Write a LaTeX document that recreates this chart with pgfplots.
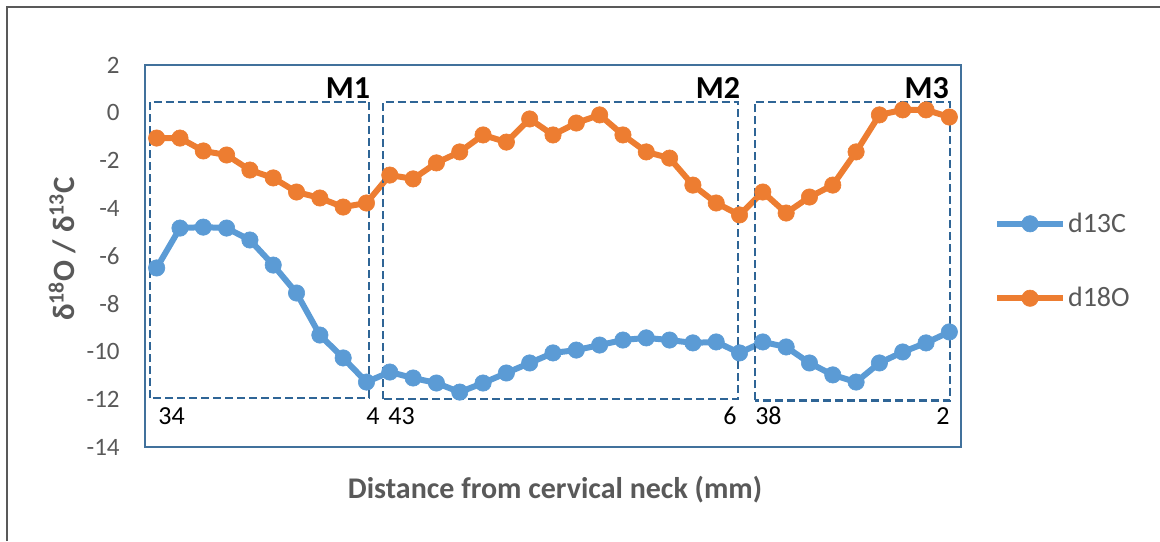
\documentclass[border=0pt]{standalone}
\usepackage{fontspec}
\setmainfont{Carlito}
\usepackage{pgfplots}
\usepackage{pgfplotstable}
\pgfplotsset{compat=1.18}
\definecolor{cblue}{RGB}{91,155,213}
\definecolor{corange}{RGB}{237,125,49}
\definecolor{framec}{RGB}{65,113,156}
\definecolor{dashc}{RGB}{47,101,150}
\definecolor{tgray}{RGB}{89,89,89}

\pgfplotstableread{
x c o
0 -6.50 -1.06
1 -4.83 -1.06
2 -4.79 -1.60
3 -4.83 -1.77
4 -5.33 -2.40
5 -6.38 -2.73
6 -7.55 -3.32
7 -9.31 -3.57
8 -10.27 -3.95
9 -11.28 -3.78
10 -10.86 -2.61
11 -11.11 -2.77
12 -11.32 -2.10
13 -11.70 -1.64
14 -11.32 -0.93
15 -10.90 -1.23
16 -10.48 -0.26
17 -10.06 -0.93
18 -9.94 -0.43
19 -9.73 -0.09
20 -9.52 -0.93
21 -9.43 -1.64
22 -9.52 -1.90
23 -9.64 -3.03
24 -9.60 -3.78
25 -10.06 -4.28
26 -9.60 -3.32
27 -9.81 -4.20
28 -10.48 -3.53
29 -10.98 -3.03
30 -11.28 -1.64
31 -10.48 -0.09
32 -10.02 0.12
33 -9.64 0.12
34 -9.18 -0.18
}\data

\begin{document}
\begin{tikzpicture}
\path[use as bounding box] (0,0) rectangle (580pt,270.5pt);
\draw[color=black!65, line width=0.9pt] (3.5pt,0pt) -- (3.5pt,267pt) -- (580pt,267pt);
\begin{axis}[
  at={(72.5pt,47pt)}, anchor=south west,
  scale only axis, width=408pt, height=191pt,
  xmin=-0.5, xmax=34.5, ymin=-14, ymax=2,
  clip=false,
  xtick=\empty,
  ytick={-14,-12,-10,-8,-6,-4,-2,0,2},
  yticklabels={-14,-12,-10,-8,-6,-4,-2,0,2},
  major tick length=0pt,
  yticklabel style={font=\fontsize{12.5}{14}\selectfont, text=tgray, inner sep=0pt, xshift=-12.5pt},
  axis line style={draw=framec, line width=1.2pt},
  every axis plot/.append style={line width=3pt, mark=*, mark size=4.1pt, mark options={solid, line width=0.3pt}},
  legend image code/.code={\draw[mark repeat=2, mark phase=2, #1] plot coordinates {(0pt,0pt) (16.5pt,0pt) (33pt,0pt)};},
  legend style={at={(axis cs:35.9,-6.21)}, anchor=west, draw=none, fill=none, inner sep=0pt,
    row sep=24pt, column sep=0pt,
    font=\fontsize{14}{16}\selectfont, text=tgray,
    nodes={inner sep=1pt}},
  legend cell align=left,
]
\addplot[color=cblue] table[x=x, y=c] {\data};
\addlegendentry{d13C}
\addplot[color=corange] table[x=x, y=o] {\data};
\addlegendentry{d18O}

\draw[dashc, line width=1.1pt, dash pattern=on 4pt off 2pt] (axis cs:-0.29,-11.95) rectangle (axis cs:9.11,0.46);
\draw[dashc, line width=1.1pt, dash pattern=on 4pt off 2pt] (axis cs:9.71,-12.0) rectangle (axis cs:24.94,0.46);
\draw[dashc, line width=1.1pt, dash pattern=on 4pt off 2pt] (axis cs:25.66,-12.05) rectangle (axis cs:34.03,0.46);

\node[anchor=base east, inner sep=0pt, font=\fontsize{16}{18}\selectfont\bfseries] at (axis cs:9.17,0.58) {M1};
\node[anchor=base east, inner sep=0pt, font=\fontsize{16}{18}\selectfont\bfseries] at (axis cs:25.04,0.58) {M2};
\node[anchor=base east, inner sep=0pt, font=\fontsize{16}{18}\selectfont\bfseries] at (axis cs:33.99,0.58) {M3};

\node[anchor=base west, inner sep=0pt, font=\fontsize{13}{15}\selectfont] at (axis cs:0.06,-13.04) {34};
\node[anchor=base east, inner sep=0pt, font=\fontsize{13}{15}\selectfont] at (axis cs:9.58,-13.04) {4};
\node[anchor=base west, inner sep=0pt, font=\fontsize{13}{15}\selectfont] at (axis cs:9.92,-13.04) {43};
\node[anchor=base east, inner sep=0pt, font=\fontsize{13}{15}\selectfont] at (axis cs:24.89,-13.04) {6};
\node[anchor=base west, inner sep=0pt, font=\fontsize{13}{15}\selectfont] at (axis cs:25.66,-13.04) {38};
\node[anchor=base east, inner sep=0pt, font=\fontsize{13}{15}\selectfont] at (axis cs:34.03,-13.04) {2};

\node[anchor=center, inner sep=0pt, text=tgray, font=\fontsize{15}{17}\selectfont\bfseries] at (axis cs:17.09,-15.80) {Distance from cervical neck (mm)};
\node[anchor=center, rotate=90, inner sep=0pt, text=tgray, font=\fontsize{15.5}{17}\selectfont\bfseries] at (axis cs:-4.06,-5.7) {δ\textsuperscript{18}O / δ\textsuperscript{13}C};
\end{axis}
\end{tikzpicture}
\end{document}
